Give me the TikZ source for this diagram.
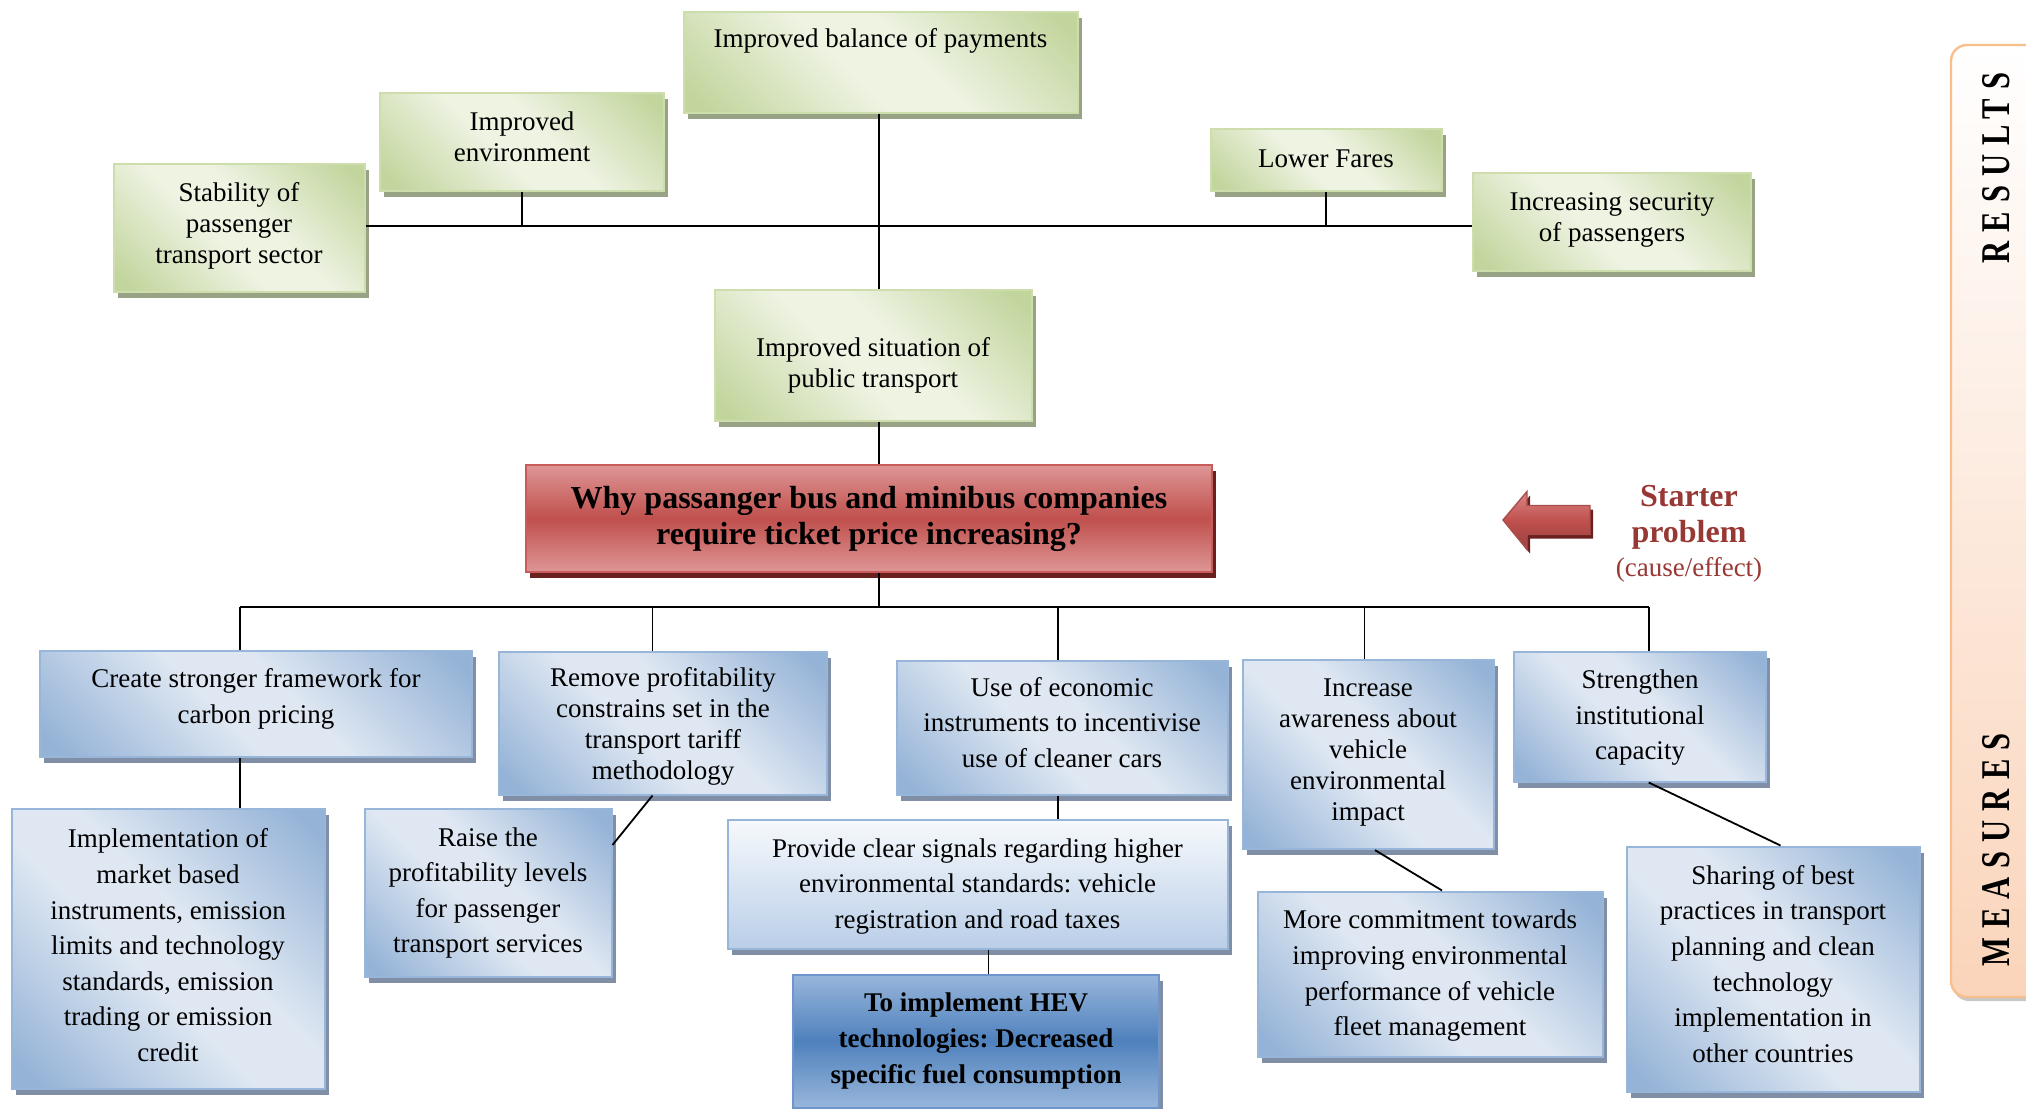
\documentclass[tikz,border=0pt]{standalone}
\usepackage{fontspec}
\setmainfont{Liberation Serif}
\newfontfamily\sidefont[FakeStretch=0.75,LetterSpace=22]{Liberation Serif}
\usetikzlibrary{shadows,calc}
\frenchspacing

% invisible struts that nudge a box's text up (extra depth) or down (extra height)
\newcommand\boxlift[1]{\rule[-#1]{0pt}{0pt}}
\newcommand\boxdrop[1]{\rule{0pt}{#1}}

% palette
\definecolor{gLight}{RGB}{238,243,226}
\definecolor{gDark}{RGB}{194,213,157}
\definecolor{gEdge}{RGB}{205,221,172}
\definecolor{gShadow}{RGB}{152,162,132}
\definecolor{bLight}{RGB}{222,231,242}
\definecolor{bDark}{RGB}{149,179,215}
\definecolor{bEdge}{RGB}{152,181,218}
\definecolor{bShadow}{RGB}{128,142,166}
\definecolor{bPale}{RGB}{246,249,252}
\definecolor{bLow}{RGB}{186,206,232}
\definecolor{rTop}{RGB}{222,150,150}
\definecolor{rMid}{RGB}{192,80,77}
\definecolor{rEdge}{RGB}{200,92,90}
\definecolor{rShadow}{RGB}{105,32,30}
\definecolor{hevLight}{RGB}{152,182,219}
\definecolor{hevDark}{RGB}{79,129,189}
\definecolor{hevEdge}{RGB}{110,150,205}
\definecolor{starRed}{RGB}{152,56,52}
\definecolor{barEdge}{RGB}{248,190,140}
\definecolor{barLow}{RGB}{250,212,186}

% diagonal light band across the boxes
\pgfdeclarehorizontalshading{greenband}{100bp}{color(0bp)=(gDark); color(18bp)=(gDark); color(44bp)=(gLight); color(56bp)=(gLight); color(82bp)=(gDark); color(100bp)=(gDark)}
\pgfdeclarehorizontalshading{blueband}{100bp}{color(0bp)=(bDark); color(18bp)=(bDark); color(44bp)=(bLight); color(56bp)=(bLight); color(82bp)=(bDark); color(100bp)=(bDark)}

\tikzset{
  body/.style={font=\fontsize{13.5}{17.8}\selectfont},
  tight/.style={font=\fontsize{13.5}{15.5}\selectfont},
  gbox/.style={draw=gEdge, line width=1pt, shade, shading=greenband, shading angle=45,
    drop shadow={shadow xshift=2pt, shadow yshift=-3pt, fill=gShadow, opacity=1},
    align=center, inner sep=2pt, body},
  bbox/.style={draw=bEdge, line width=1pt, shade, shading=blueband, shading angle=45,
    drop shadow={shadow xshift=2pt, shadow yshift=-3pt, fill=bShadow, opacity=1},
    align=center, inner sep=2pt, body},
  paleblue/.style={draw=bEdge, line width=1pt, top color=bPale, bottom color=bLow,
    drop shadow={shadow xshift=2pt, shadow yshift=-3pt, fill=bShadow, opacity=1},
    align=center, inner sep=2pt, body},
  hevbox/.style={draw=hevEdge, line width=1pt, top color=hevLight, bottom color=hevLight, middle color=hevDark,
    drop shadow={shadow xshift=2pt, shadow yshift=-3pt, fill=bShadow, opacity=1},
    align=center, inner sep=2pt, font=\fontsize{13.5}{17.8}\selectfont\bfseries},
  redbox/.style={draw=rEdge, line width=1pt, top color=rTop, bottom color=rTop, middle color=rMid,
    drop shadow={shadow xshift=2pt, shadow yshift=-3pt, fill=rShadow, opacity=1},
    align=center, inner sep=2pt, font=\fontsize{16}{18}\selectfont\bfseries},
  conn/.style={draw=black, line width=0.9pt},
  sidelabel/.style={rotate=90, font=\sidefont\fontsize{20.4}{22}\selectfont\bfseries}
}

\begin{document}
\begin{tikzpicture}[x=0.5pt,y=-0.5pt]
\useasboundingbox (0,0) rectangle (2026,1109);
\clip (0,0) rectangle (2026,1109);

% side bar with the two section titles
\path[draw=barEdge, line width=1.2pt, rounded corners=8pt, top color=white, bottom color=barLow,
  drop shadow={shadow xshift=1pt, shadow yshift=-2pt, fill=black!22, opacity=1}]
  (1951,45) rectangle (2090,997);
\node[sidelabel] (results) at (1996,168) {RESULTS};
\node[sidelabel] (measures) at (1996,850) {MEASURES};

% results
\node[gbox, minimum width=197pt, minimum height=50.5pt, text height=14.9pt, text depth=29.6pt, inner ysep=3pt]
  (balance) at (880.5,62) {Improved balance of payments};
\node[gbox, tight, minimum width=142pt, minimum height=49pt] (environment) at (522,142) {Improved\\environment\boxlift{5.2pt}};
\node[gbox, tight, minimum width=125.5pt, minimum height=64pt] (stability) at (239,228) {Stability of\\passenger\\transport sector\boxlift{5.5pt}};
\node[gbox, minimum width=115.5pt, minimum height=31pt] (fares) at (1326,160) {Lower Fares\boxlift{1.3pt}};
\node[gbox, tight, minimum width=139pt, minimum height=49pt] (security) at (1612,222) {Increasing security\\of passengers\boxlift{4.9pt}};
\node[gbox, tight, minimum width=158.5pt, minimum height=65.5pt] (situation) at (873,355) {\boxdrop{19.6pt}Improved situation of\\public transport};

% starter problem
\node[redbox, minimum width=343pt, minimum height=53.5pt] (why) at (869,518.5)
  {Why passanger bus and minibus companies\\require ticket price increasing?};
\path[draw=rEdge!85!black, line width=0.7pt, top color=rTop!80!rMid, bottom color=rMid!80!black, middle color=rMid,
  drop shadow={shadow xshift=1.5pt, shadow yshift=-2pt, fill=rShadow, opacity=1}]
  (1503,520) -- (1527,491.5) -- (1527,505.5) -- (1590,505.5) -- (1590,534.5) -- (1527,534.5) -- (1527,549.5) -- cycle;
\node[text=starRed, align=center, font=\fontsize{16}{18}\selectfont\bfseries] (starter) at (1689,517) {Starter\\problem};
\node[text=starRed, font=\fontsize{13.5}{16}\selectfont] (causeeffect) at (1689,570) {(cause/effect)};

% measures, first row
\node[bbox, minimum width=216pt, minimum height=53pt] (framework) at (256,704) {Create stronger framework for\\carbon pricing\boxlift{8.1pt}};
\node[bbox, tight, minimum width=164pt, minimum height=71.5pt] (remove) at (663,723) {\boxdrop{13pt}Remove profitability\\constrains set in the\\transport tariff\\methodology};
\node[bbox, minimum width=165.5pt, minimum height=67pt] (economic) at (1062,727.5) {Use of economic\\instruments to incentivise\\use of cleaner cars\boxlift{5.2pt}};
\node[bbox, tight, minimum width=125.5pt, minimum height=94.5pt] (awareness) at (1368,754.6) {Increase\\awareness about\\vehicle\\environmental\\impact\boxlift{4.9pt}};
\node[bbox, minimum width=126pt, minimum height=65pt] (strengthen) at (1640,716.5) {\boxdrop{10.5pt}Strengthen\\institutional\\capacity};

% measures, second row
\node[bbox, minimum width=156.5pt, minimum height=140pt] (market) at (168,949) {Implementation of\\market based\\instruments, emission\\limits and technology\\standards, emission\\trading or emission\\credit\boxlift{3.8pt}};
\node[bbox, minimum width=123.5pt, minimum height=84pt] (raise) at (488,893) {Raise the\\profitability levels\\for passenger\\transport services};
\node[paleblue, minimum width=250pt, minimum height=64.5pt] (signals) at (977.5,884) {\boxdrop{11.8pt}Provide clear signals regarding higher\\environmental standards: vehicle\\registration and road taxes};
\node[hevbox, minimum width=183pt, minimum height=66.5pt] (hev) at (976,1041) {To implement HEV\\technologies: Decreased\\specific fuel consumption};
\node[bbox, minimum width=172.5pt, minimum height=82.5pt] (commitment) at (1430,974) {\boxdrop{11.2pt}More commitment towards\\improving environmental\\performance of vehicle\\fleet management};
\node[bbox, minimum width=146.5pt, minimum height=122.5pt] (sharing) at (1773,969) {Sharing of best\\practices in transport\\planning and clean\\technology\\implementation in\\other countries\boxlift{5.2pt}};

% junction points of the two trees
\coordinate (hubT) at (878.6,226);
\coordinate (hubB) at (878.6,607);
\coordinate (s1) at (240,607);
\coordinate (s2) at (652.5,607);
\coordinate (s3) at (1058,607);
\coordinate (s4) at (1364.5,607);
\coordinate (s5) at (1648.7,607);
\coordinate (s6) at (988.5,960);

% upper tree
\draw[conn] (stability.east |- hubT) -- (security.west |- hubT);
\draw[conn] (environment.south) -- (environment.south |- hubT);
\draw[conn] (fares.south) -- (fares.south |- hubT);
\draw[conn] (balance.south -| hubT) -- (situation.north -| hubT);
\draw[conn] (situation.south -| hubT) -- (why.north -| hubT);

% lower tree
\draw[conn] (why.south -| hubB) -- (hubB);
\draw[conn] (s1) -- (s5);
\draw[conn] (s1) -- (framework.north -| s1);
\draw[conn] (s2) -- (remove.north -| s2);
\draw[conn] (s3) -- (economic.north -| s3);
\draw[conn] (s4) -- (awareness.north -| s4);
\draw[conn] (s5) -- (strengthen.north -| s5);

\draw[conn] (framework.south -| s1) -- (market.north -| s1);
\draw[conn] (remove.south -| s2) -- ([yshift=24pt]raise.east);
\draw[conn] (economic.south -| s3) -- (signals.north -| s3);
\draw[conn] (signals.south -| s6) -- (hev.north -| s6);
\draw[conn] ([xshift=3.5pt]awareness.south) -- ([xshift=6pt]commitment.north);
\draw[conn] (strengthen.south -| s5) -- ([xshift=3.75pt]sharing.north);
\end{tikzpicture}
\end{document}
